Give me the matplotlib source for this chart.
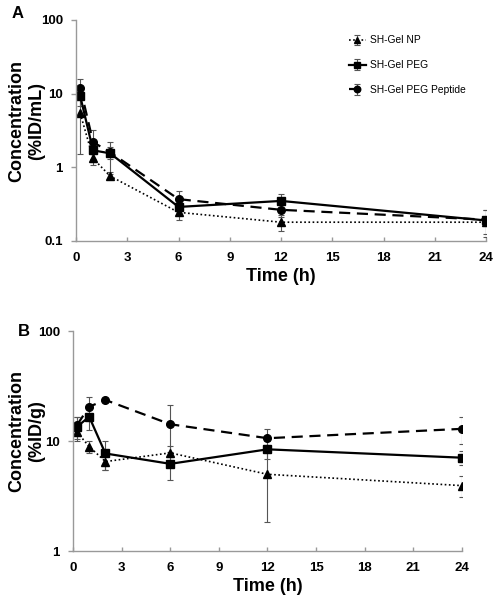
import numpy as np
import matplotlib.pyplot as plt

plt.rcParams['font.family'] = ['Liberation Sans', 'DejaVu Sans']

# sampling times (h)
time = [0.25, 1, 2, 6, 12, 24]
series_names = ['SH-Gel NP', 'SH-Gel PEG', 'SH-Gel PEG Peptide']

# panel A: blood concentration (%ID/mL)
blood_np = [5.4, 1.32, 0.76, 0.245, 0.18, 0.18]
blood_np_err = [3.9, 0.25, 0.06, 0.05, 0.045, 0.02]
blood_peg = [9.2, 1.7, 1.55, 0.29, 0.35, 0.19]
blood_peg_err = [2.5, 0.4, 0.68, 0.06, 0.08, 0.075]
blood_pep = [12.1, 2.2, 1.6, 0.37, 0.265, 0.195]
blood_pep_err = [3.6, 1.0, 0.3, 0.11, 0.05, 0.07]

# panel B: tissue concentration (%ID/g)
tis_np = [12.0, 8.9, 6.5, 7.8, 4.98, 3.93]
tis_np_err = [2.0, 1.2, 1.0, 1.3, 3.15, 0.85]
tis_peg = [13.5, 16.6, 7.7, 6.2, 8.4, 7.05]
tis_peg_err = [3.0, 4.0, 2.3, 1.8, 1.5, 1.0]
tis_pep = [14.0, 20.5, 23.6, 14.2, 10.6, 12.9]
tis_pep_err = [2.5, 4.5, 1.0, 7.0, 2.2, 3.5]

styles = [dict(marker='^', linestyle=(0, (1, 1.5)), lw=1.2),
          dict(marker='s', linestyle='-', lw=1.6),
          dict(marker='o', linestyle=(0, (5, 3)), lw=1.6)]

fig = plt.figure(figsize=(5.01, 6.0), dpi=100)
axA = fig.add_axes([76 / 501, 1 - 241 / 600, 410 / 501, 221 / 600])
axB = fig.add_axes([73 / 501, 1 - 551 / 600, 389 / 501, 220 / 600])


def draw(ax, data, errs, ylim, yticks, yticklabels, ylabel, label_x):
    for vals, err, st, name in zip(data, errs, styles, series_names):
        ax.errorbar(time, vals, yerr=err, color='black', ecolor='#555555',
                    elinewidth=0.8, capsize=2.5, capthick=0.8,
                    markersize=5.5, label=name, **st)
    ax.set_yscale('log')
    ax.set_ylim(*ylim)
    ax.set_xlim(0, 24)
    ax.set_xticks(range(0, 25, 3))
    ax.set_yticks(yticks)
    ax.set_yticklabels(yticklabels)
    ax.yaxis.set_minor_locator(plt.NullLocator())
    for s in ['top', 'right']:
        ax.spines[s].set_visible(False)
    for s in ['left', 'bottom']:
        ax.spines[s].set_color('#999999')
        ax.spines[s].set_linewidth(1.0)
    ax.tick_params(axis='y', direction='out', length=3.5, color='#999999',
                   width=1.0, labelsize=9.5, pad=6)
    ax.tick_params(axis='x', direction='in', length=3, color='#999999',
                   width=1.0, labelsize=9.5, pad=8)
    for lab in ax.get_xticklabels() + ax.get_yticklabels():
        lab.set_fontweight('bold')
    ax.set_xlabel('Time (h)', fontsize=13, fontweight='bold', labelpad=3)
    ax.set_ylabel(ylabel, fontsize=13, fontweight='bold',
                  multialignment='center', va='center', ha='center')
    ax.yaxis.set_label_coords(label_x, 0.545)


draw(axA, [blood_np, blood_peg, blood_pep],
     [blood_np_err, blood_peg_err, blood_pep_err],
     (0.1, 100), [0.1, 1, 10, 100], ['0.1', '1', '10', '100'],
     'Concentration\n(%ID/mL)', (27 - 76) / 410)
draw(axB, [tis_np, tis_peg, tis_pep],
     [tis_np_err, tis_peg_err, tis_pep_err],
     (1, 100), [1, 10, 100], ['1', '10', '100'],
     'Concentration\n(%ID/g)', (27 - 73) / 389)

axA.legend(loc='upper left', bbox_to_anchor=(340 / 501, 1 - 26 / 600),
           bbox_transform=fig.transFigure, frameon=False, fontsize=7.4,
           handlelength=1.6, handletextpad=0.4, labelspacing=1.45,
           markerscale=0.85)

fig.text(12 / 501, 1 - 14 / 600, 'A', fontsize=12, fontweight='bold',
         va='center', ha='left')
fig.text(18 / 501, 1 - 331 / 600, 'B', fontsize=12, fontweight='bold',
         va='center', ha='left')

fig.savefig('out.png', dpi=100)
